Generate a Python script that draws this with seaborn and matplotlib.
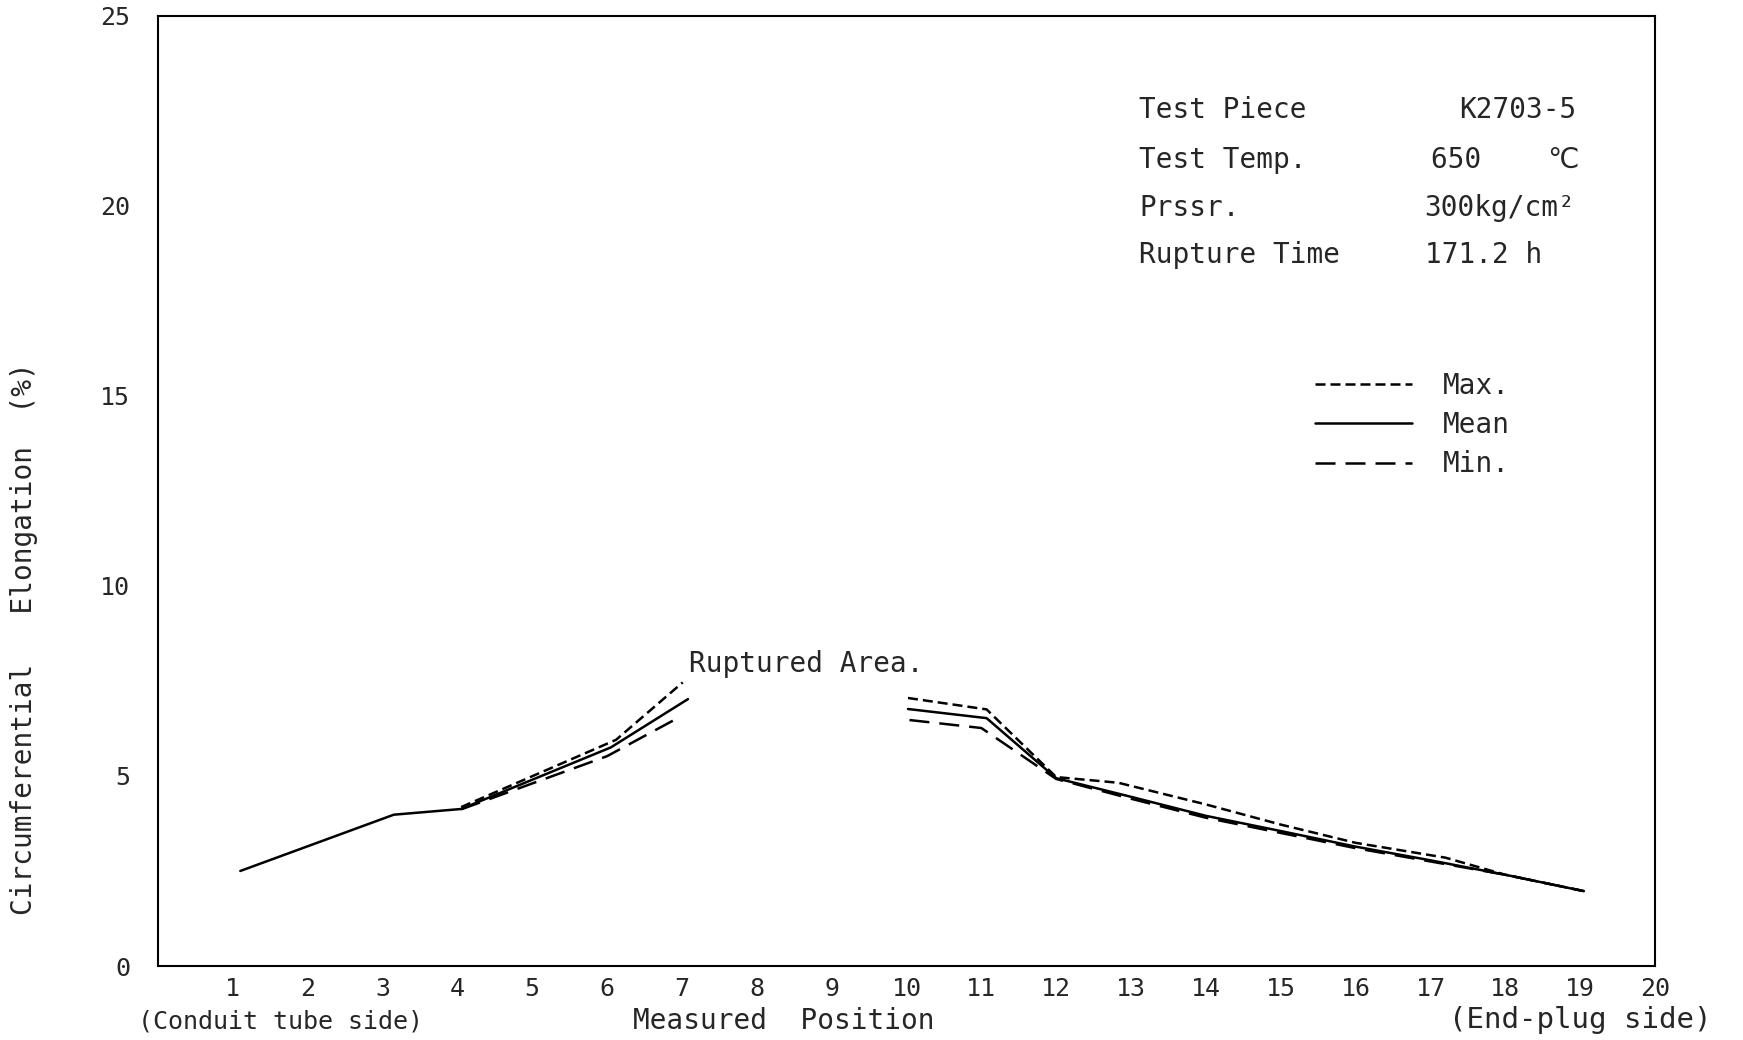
import matplotlib
matplotlib.use("Agg")
import matplotlib.pyplot as plt
from matplotlib.lines import Line2D
import seaborn as sns
import pandas as pd

# ---- data ----
mean_left_x = [1.1, 3.15, 4.05, 6.05, 7.08]
mean_left_y = [2.5, 3.98, 4.13, 5.75, 7.02]
max_left_x = [4.05, 6.12, 7.01]
max_left_y = [4.18, 5.95, 7.46]
min_left_x = [4.05, 6.0, 6.97]
min_left_y = [4.12, 5.52, 6.55]

max_right_x = [10.02, 11.07, 12.0, 12.83, 14.0, 15.0, 16.0, 17.2, 18.0, 19.05]
max_right_y = [7.05, 6.75, 4.97, 4.82, 4.25, 3.72, 3.24, 2.85, 2.4, 1.97]
mean_right_x = [10.02, 11.07, 12.0, 13.0, 14.0, 15.0, 16.0, 17.0, 18.0, 19.05]
mean_right_y = [6.76, 6.52, 4.94, 4.45, 3.95, 3.55, 3.14, 2.78, 2.4, 1.97]
min_right_x = [10.04, 11.0, 12.0, 13.0, 14.0, 15.0, 16.0, 17.0, 18.0, 19.05]
min_right_y = [6.47, 6.26, 4.92, 4.4, 3.9, 3.5, 3.1, 2.75, 2.4, 1.97]

x_ticks = list(range(1, 21))
y_ticks = [0, 5, 10, 15, 20, 25]

info_labels = ["Test Piece", "Test Temp.", "Prssr.", "Rupture Time"]
info_values = ["K2703-5", "650    \u2103", "300kg/cm\u00b2", "171.2 h"]

# ---- build long table ----
segments = [
    ("Max.", "L", max_left_x, max_left_y),
    ("Mean", "L", mean_left_x, mean_left_y),
    ("Min.", "L", min_left_x, min_left_y),
    ("Max.", "R", max_right_x, max_right_y),
    ("Mean", "R", mean_right_x, mean_right_y),
    ("Min.", "R", min_right_x, min_right_y),
]
rows = []
for stat, side, xs, ys in segments:
    for xv, yv in zip(xs, ys):
        rows.append({"pos": xv, "elong": yv, "stat": stat, "seg": stat + side})
df = pd.DataFrame(rows)

sns.set_style("white")
FONT = ["DejaVu Sans Mono", "DejaVu Sans"]
plt.rcParams["font.family"] = FONT

fig = plt.figure(figsize=(17.43, 10.40), dpi=100)
W, H = 1743, 1040
ax = fig.add_axes([158 / W, 1 - 966 / H, (1655 - 158) / W, (966 - 15.6) / H])

LW = 1.8
dash_map = {"Max.": (4, 2), "Mean": "", "Min.": (8, 4)}
sns.lineplot(data=df, x="pos", y="elong", style="stat", units="seg",
             estimator=None, sort=False, dashes=dash_map, color="black",
             linewidth=LW, legend=False, ax=ax)

ax.set_xlim(0, 20)
ax.set_ylim(0, 25)
ax.set_xticks(x_ticks)
ax.set_xticklabels([str(t) for t in x_ticks], fontsize=18)
ax.set_yticks(y_ticks)
ax.set_yticklabels([str(t) for t in y_ticks], fontsize=18)
ax.tick_params(axis="y", direction="in", length=14, width=1.2, pad=20)
ax.tick_params(axis="x", direction="in", length=10, width=1.2, pad=8)
ax.set_xlabel("")
ax.set_ylabel("")
for s in ax.spines.values():
    s.set_visible(True)
    s.set_linewidth(1.5)
    s.set_color("black")

# annotation
ax.text(7.1, 7.95, "Ruptured Area.", fontsize=20, va="center", ha="left")

# info block
info_y = [110, 160, 208, 255]
val_x = [1459, 1431, 1424, 1425]
for lab, val, yy, vx in zip(info_labels, info_values, info_y, val_x):
    fig.text(1139 / W, 1 - yy / H, lab, fontsize=20, va="center", ha="left")
    fig.text(vx / W, 1 - yy / H, val, fontsize=20, va="center", ha="left")

# legend
handles = [Line2D([], [], color="black", lw=LW, dashes=(4, 2)),
           Line2D([], [], color="black", lw=LW),
           Line2D([], [], color="black", lw=LW, dashes=(8, 4))]
ax.legend(handles, ["Max.", "Mean", "Min."], loc="upper left",
          bbox_to_anchor=(1315 / W, 1 - 372 / H), bbox_transform=fig.transFigure,
          frameon=False, fontsize=20, handlelength=3.5, handletextpad=1.1,
          labelspacing=0.4, borderpad=0, borderaxespad=0)

# axis titles
fig.text(24 / W, 1 - 639 / H, "Circumferential   Elongation  (%)", rotation=90,
         fontsize=20, va="center", ha="center")
fig.text(280 / W, 1 - 1022 / H, "(Conduit tube side)", fontsize=18,
         va="center", ha="center")
fig.text(784 / W, 1 - 1021 / H, "Measured  Position", fontsize=20,
         va="center", ha="center")
fig.text(1580 / W, 1 - 1020 / H, "(End-plug side)", fontsize=21,
         va="center", ha="center")

fig.savefig("out.png", dpi=100, facecolor="white")
